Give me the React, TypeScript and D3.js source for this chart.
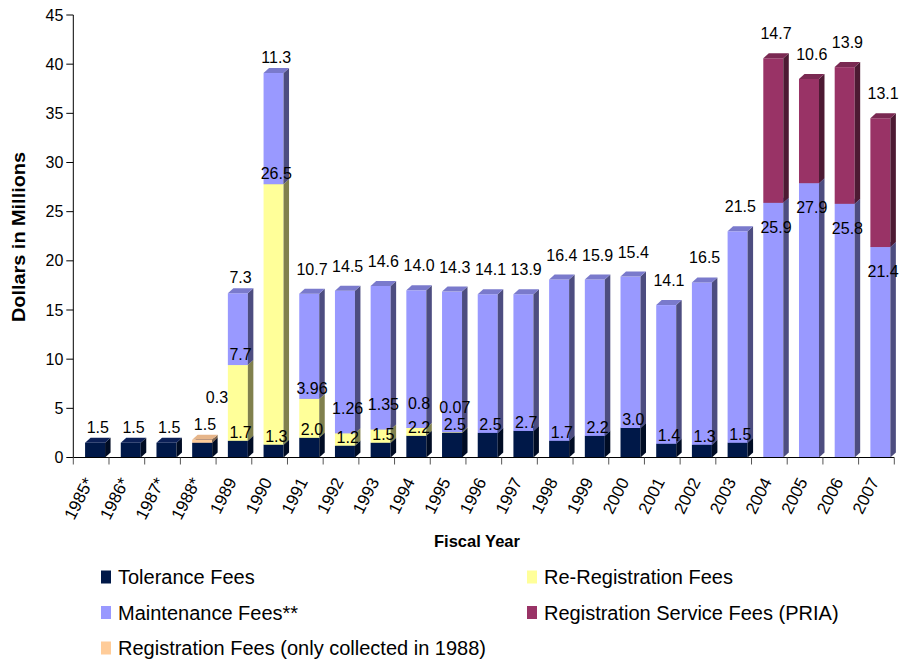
import React from "react";
import * as d3 from "d3";

const years = [
  "1985*", "1986*", "1987*", "1988*", "1989", "1990", "1991", "1992", "1993", "1994", "1995",
  "1996", "1997", "1998", "1999", "2000", "2001", "2002", "2003", "2004", "2005", "2006", "2007",
];
const toleranceFees = [1.5, 1.5, 1.5, 1.5, 1.7, 1.3, 2.0, 1.2, 1.5, 2.2, 2.5, 2.5, 2.7, 1.7, 2.2, 3.0, 1.4, 1.3, 1.5, 0, 0, 0, 0];
const registrationFees = [0, 0, 0, 0.3, 0, 0, 0, 0, 0, 0, 0, 0, 0, 0, 0, 0, 0, 0, 0, 0, 0, 0, 0];
const reRegistrationFees = [0, 0, 0, 0, 7.7, 26.5, 3.96, 1.26, 1.35, 0.8, 0.07, 0, 0, 0, 0, 0, 0, 0, 0, 0, 0, 0, 0];
const maintenanceFees = [0, 0, 0, 0, 7.3, 11.3, 10.7, 14.5, 14.6, 14.0, 14.3, 14.1, 13.9, 16.4, 15.9, 15.4, 14.1, 16.5, 21.5, 25.9, 27.9, 25.8, 21.4];
const priaFees = [0, 0, 0, 0, 0, 0, 0, 0, 0, 0, 0, 0, 0, 0, 0, 0, 0, 0, 0, 14.7, 10.6, 13.9, 13.1];
const yTicks = [0, 5, 10, 15, 20, 25, 30, 35, 40, 45];

const seriesNames = [
  "Tolerance Fees",
  "Registration Fees (only collected in 1988)",
  "Re-Registration Fees",
  "Maintenance Fees**",
  "Registration Service Fees (PRIA)",
];
const seriesValues = [toleranceFees, registrationFees, reRegistrationFees, maintenanceFees, priaFees];
const seriesColors = [
  { front: "#001848", side: "#000c24", top: "#0c2058" },
  { front: "#ffcc99", side: "#80664d", top: "#e6b58a" },
  { front: "#ffff99", side: "#80804d", top: "#cccc7a" },
  { front: "#9999ff", side: "#4d4d80", top: "#7a7acc" },
  { front: "#993366", side: "#4d1a33", top: "#7a2952" },
];
// legend layout order: [seriesIndex] per grid cell
const legendOrder = [0, 2, 3, 4, 1];

const FONT = "'Liberation Sans', Arial, Helvetica, sans-serif";

const W = 904;
const H = 662;
const plotLeft = 73.3;
const plotRight = 894.3;
const plotTop = 15;
const plotBottom = 457.5;
const DX = 5.5;
const DY = 5;

const fmt = (v: number) => (Math.abs(v * 10 - Math.round(v * 10)) < 1e-9 ? v.toFixed(1) : v.toFixed(2));

export default function App() {
  const x = d3.scaleBand<string>().domain(years).range([plotLeft, plotRight]).paddingInner(0).paddingOuter(0);
  const y = d3.scaleLinear().domain([0, 45]).range([plotBottom, plotTop]);
  const bw = x.bandwidth();
  const faceOffset = bw * 0.33;
  const faceW = bw * 0.56;

  const bars: React.ReactNode[] = [];
  const labels: React.ReactNode[] = [];

  years.forEach((yr, j) => {
    const x0 = (x(yr) as number) + faceOffset;
    const cx = x0 + faceW / 2 + DX / 2;
    const total = seriesValues.reduce((s, arr) => s + arr[j], 0);
    let cum = 0;
    seriesValues.forEach((arr, i) => {
      const v = arr[j];
      if (v <= 0) return;
      const b = cum;
      cum += v;
      const y0 = y(b);
      const y1 = y(cum);
      const c = seriesColors[i];
      bars.push(
        <g key={`b-${j}-${i}`}>
          <rect x={x0} y={y1} width={faceW} height={Math.max(0, y0 - y1)} fill={c.front} />
          <polygon
            points={`${x0 + faceW},${y0} ${x0 + faceW + DX},${y0 - DY} ${x0 + faceW + DX},${y1 - DY} ${x0 + faceW},${y1}`}
            fill={c.side}
          />
          <polygon
            points={`${x0},${y1} ${x0 + faceW},${y1} ${x0 + faceW + DX},${y1 - DY} ${x0 + DX},${y1 - DY}`}
            fill={c.top}
          />
        </g>
      );
      // label placement
      let lx = cx;
      let ly: number;
      const isTop = seriesValues.every((a, k) => k <= i || k === 1 || a[j] <= 0);
      if (i === 1) {
        lx = cx + 12;
        ly = y(total) - 37;
      } else if (isTop) {
        ly = y(total) - (j < 6 ? 10 : 19);
      } else if (i === 3) {
        ly = y(cum) + 30;
      } else if (i === 2) {
        ly = y(cum) - (v < 2 ? 19 : 5);
      } else {
        ly = y(cum) - 3;
      }
      labels.push(
        <text key={`l-${j}-${i}`} x={lx} y={ly} textAnchor="middle" fontSize={16} fontFamily={FONT} fill="#000">
          {fmt(v)}
        </text>
      );
    });
  });

  const catEdges = [...years.map((yr) => x(yr) as number), plotRight];

  return (
    <svg width={W} height={H} style={{ position: "absolute", left: 0, top: 0, background: "#fff" }}>
      <rect x={0} y={0} width={W} height={H} fill="#fff" />
      {bars}
      {/* Y axis */}
      <line x1={plotLeft} x2={plotLeft} y1={plotTop} y2={plotBottom} stroke="#000" strokeWidth={1} />
      {yTicks.map((t) => (
        <g key={`yt-${t}`}>
          <line x1={plotLeft - 7} x2={plotLeft} y1={y(t)} y2={y(t)} stroke="#000" strokeWidth={1} />
          <text x={plotLeft - 10} y={y(t) + 5.5} textAnchor="end" fontSize={16} fontFamily={FONT} fill="#000">
            {t}
          </text>
        </g>
      ))}
      {/* X axis */}
      <line x1={plotLeft} x2={plotRight} y1={plotBottom} y2={plotBottom} stroke="#000" strokeWidth={1} />
      {catEdges.map((e, k) => (
        <line key={`xt-${k}`} x1={e} x2={e} y1={plotBottom} y2={plotBottom + 7} stroke="#555" strokeWidth={1} />
      ))}
      {years.map((yr) => {
        const ax = (x(yr) as number) + bw / 2 + 3;
        const ay = plotBottom + 24;
        return (
          <text
            key={`xl-${yr}`}
            x={ax}
            y={ay}
            textAnchor="end"
            fontSize={17}
            fontFamily={FONT}
            fill="#000"
            transform={`rotate(-63 ${ax} ${ay})`}
          >
            {yr}
          </text>
        );
      })}
      {labels}
      {/* Axis titles */}
      <text x={477} y={546.5} textAnchor="middle" fontSize={16.5} fontWeight="bold" fontFamily={FONT} fill="#000">
        Fiscal Year
      </text>
      <text
        x={25}
        y={237}
        textAnchor="middle"
        fontSize={18}
        fontWeight="bold"
        fontFamily={FONT}
        fill="#000"
        transform="rotate(-90 25 237)"
        textLength={170}
        lengthAdjust="spacingAndGlyphs"
      >
        Dollars in Millions
      </text>
      {/* Legend */}
      {legendOrder.map((si, k) => {
        const col = k % 2;
        const row = Math.floor(k / 2);
        const sx = col === 0 ? 101 : 527;
        const cy = 577 + row * 35.5;
        return (
          <g key={`lg-${si}`}>
            <rect x={sx} y={cy - 6.5} width={10} height={13} fill={seriesColors[si].front} />
            <text x={sx + 17} y={cy + 7} fontSize={20} fontFamily={FONT} fill="#000">
              {seriesNames[si]}
            </text>
          </g>
        );
      })}
    </svg>
  );
}
